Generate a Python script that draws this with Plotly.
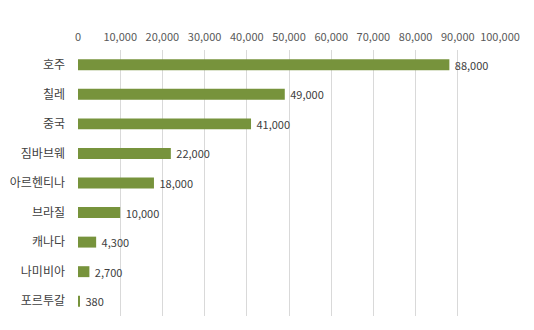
import plotly.graph_objects as go

categories = ["호주", "칠레", "중국", "짐바브웨", "아르헨티나", "브라질", "캐나다", "나미비아", "포르투갈"]
values = [88000, 49000, 41000, 22000, 18000, 10000, 4300, 2700, 380]
tick_vals = list(range(0, 100001, 10000))
tick_text = [f"{v:,}" for v in tick_vals]

fig = go.Figure(go.Bar(
    y=categories,
    x=values,
    orientation="h",
    marker=dict(color="#77933C", line=dict(width=0)),
    text=["\u00a0" + f"{v:,}" for v in values],
    textposition="outside",
    constraintext="none",
    textfont=dict(size=11, color="#404040", family="Noto Sans CJK KR"),
    cliponaxis=False,
))

fig.update_layout(
    width=534, height=330,
    margin=dict(l=78, r=34, t=50, b=14),
    paper_bgcolor="white", plot_bgcolor="white",
    bargap=0.63,
    showlegend=False,
    font=dict(family="Noto Sans CJK KR", color="#595959"),
)
fig.update_xaxes(
    side="top", range=[0, 100000],
    tickvals=tick_vals, ticktext=tick_text,
    showgrid=True, gridcolor="#D9D9D9", gridwidth=1,
    zeroline=False, showline=False, ticks="",
    tickfont=dict(size=11, color="#595959"),
    ticklabelstandoff=6,
    automargin=False,
)
fig.update_yaxes(
    autorange="reversed",
    showgrid=False, zeroline=False, showline=False, ticks="",
    tickfont=dict(size=12, color="#404040"),
    ticklabelstandoff=12,
    automargin=False,
)

fig.write_html("out.html")
